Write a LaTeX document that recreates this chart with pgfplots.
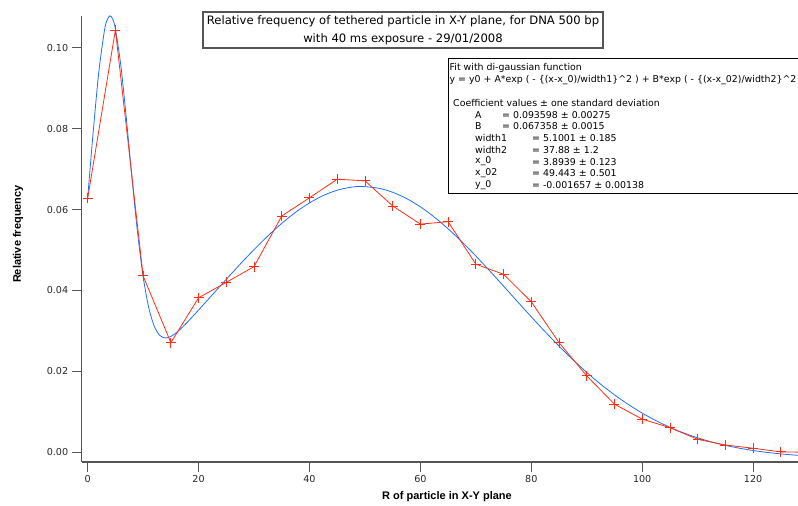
\documentclass[border=0pt]{standalone}
\usepackage{fontspec}
\setmainfont{DejaVu Sans}
\newfontfamily\labfont{Liberation Sans}
\usepackage{pgfplots}
\pgfplotsset{compat=1.18}
\definecolor{datared}{RGB}{255,45,20}
\definecolor{fitblue}{RGB}{30,110,255}
\definecolor{axgray}{RGB}{85,85,85}
\definecolor{txtgray}{RGB}{40,40,40}
\newcommand{\boxfont}{\fontsize{9.4}{11}\selectfont}
\begin{document}
\begin{tikzpicture}
\path[use as bounding box] (0,0) rectangle (798pt,506pt);
\begin{axis}[
  at={(81.7pt,44pt)}, anchor=south west,
  scale only axis, width=716.3pt, height=446pt,
  xmin=-1.08, xmax=128.1, ymin=-0.0024, ymax=0.10784,
  axis x line=bottom, axis y line=left,
  axis line style={-, axgray, line width=1.3pt},
  tick align=outside, major tick length=10pt,
  tick style={axgray, line width=1pt},
  xtick={0,20,40,60,80,100,120},
  ytick={0,0.02,0.04,0.06,0.08,0.10},
  minor tick num=0,
  scaled y ticks=false,
  /pgf/number format/assume math mode=true,
  yticklabel style={/pgf/number format/fixed, /pgf/number format/fixed zerofill, /pgf/number format/precision=2, font=\fontsize{9.6}{11}\selectfont, text=txtgray},
  xticklabel style={font=\fontsize{9.6}{11}\selectfont, text=txtgray},
  xlabel={R of particle in X-Y plane},
  ylabel={Relative frequency},
  xlabel style={at={(rel axis cs:0.510,-0.0785)}, anchor=center, font=\labfont\bfseries\fontsize{11}{13}\selectfont},
  ylabel style={at={(rel axis cs:-0.0889,0.511)}, anchor=center, font=\labfont\bfseries\fontsize{11}{13}\selectfont},
  clip mode=global,
]
\addplot[fitblue, line width=0.8pt, smooth, no markers] coordinates {
(0,0.062859) (1,0.079301) (2,0.093917) (3,0.104091) (3.5,0.106855) (4,0.107872) (4.5,0.107112)
(5,0.104645) (6,0.095346) (7,0.082125) (8,0.067645) (9,0.054238) (10,0.043442)
(11,0.035821) (12,0.031183) (13,0.028898) (14,0.028255) (15,0.028626) (16,0.029572)
(17,0.030817) (18,0.032208) (20,0.035160) (22.5,0.038960) (25,0.042763) (27.5,0.046501)
(30,0.050101) (32.5,0.053488) (35,0.056588) (37.5,0.059328) (40,0.061644) (42.5,0.063476)
(45,0.064781) (47.5,0.065524) (49.443,0.065701) (52.5,0.065264) (55,0.064267) (57.5,0.062722)
(60,0.060667) (62.5,0.058155) (65,0.055246) (67.5,0.052010) (70,0.048518) (72.5,0.044848)
(75,0.041072) (77.5,0.037261) (80,0.033482) (82.5,0.029795) (85,0.026250) (87.5,0.022891)
(90,0.019749) (92.5,0.016848) (95,0.014201) (97.5,0.011815) (100,0.009685) (102.5,0.007812)
(105,0.006179) (107.5,0.004774) (110,0.003573) (112.5,0.002560) (115,0.001713) (117.5,0.001014)
(120,0.000441) (122.5,-0.000024) (125,-0.000396) (127.5,-0.000692) (130,-0.000926)
};
\addplot[datared, line width=0.8pt, mark=+, mark size=5pt, mark options={datared, line width=0.8pt, solid}] coordinates {
(0,0.0628) (5,0.1044) (10,0.0436) (15,0.0271) (20,0.0382) (25,0.0420) (30,0.0459)
(35,0.0584) (40,0.0629) (45,0.0675) (50,0.0671) (55,0.0609) (60,0.0564) (65,0.0570)
(70,0.0465) (75,0.0440) (80,0.0372) (85,0.0271) (90,0.0189) (95,0.0119) (100,0.0082)
(105,0.0061) (110,0.0032) (115,0.0018) (120,0.0010) (125,0.0001) (130,0.0000)
};
\end{axis}
% title box
\draw[axgray, line width=1.2pt] (203pt,458pt) rectangle (603pt,494pt);
\node[align=center, font=\fontsize{11.6}{18}\selectfont, inner sep=0pt] at (403pt,476pt)
  {Relative frequency of tethered particle in X-Y plane, for DNA 500 bp\\with 40 ms exposure - 29/01/2008};
% fit box
\draw[black, line width=0.8pt] (448pt,313pt) rectangle (810pt,448pt);
\begin{scope}[every node/.style={anchor=west, inner sep=0pt, font=\boxfont}]
\node at (449.5pt,438pt) {Fit with di-gaussian function};
\node at (449.5pt,426.3pt) {y = y0 + A*exp ( - \{(x-x\_0)/width1\}\textasciicircum 2 ) + B*exp ( - \{(x-x\_02)/width2\}\textasciicircum 2};
\node at (453pt,402.9pt) {Coefficient values ± one standard deviation};
\node at (475pt,391.2pt) {A};
\node at (502pt,391.2pt) {= 0.093598 ± 0.00275};
\node at (475pt,379.5pt) {B};
\node at (502pt,379.5pt) {= 0.067358 ± 0.0015};
\node at (475pt,367.8pt) {width1};
\node at (532pt,367.8pt) {= 5.1001 ± 0.185};
\node at (475pt,356.1pt) {width2};
\node at (532pt,356.1pt) {= 37.88 ± 1.2};
\node at (475pt,344.4pt) {x\_0};
\node at (532pt,344.4pt) {= 3.8939 ± 0.123};
\node at (475pt,332.7pt) {x\_02};
\node at (532pt,332.7pt) {= 49.443 ± 0.501};
\node at (475pt,321pt) {y\_0};
\node at (532pt,321pt) {= -0.001657 ± 0.00138};
\end{scope}
\end{tikzpicture}
\end{document}
